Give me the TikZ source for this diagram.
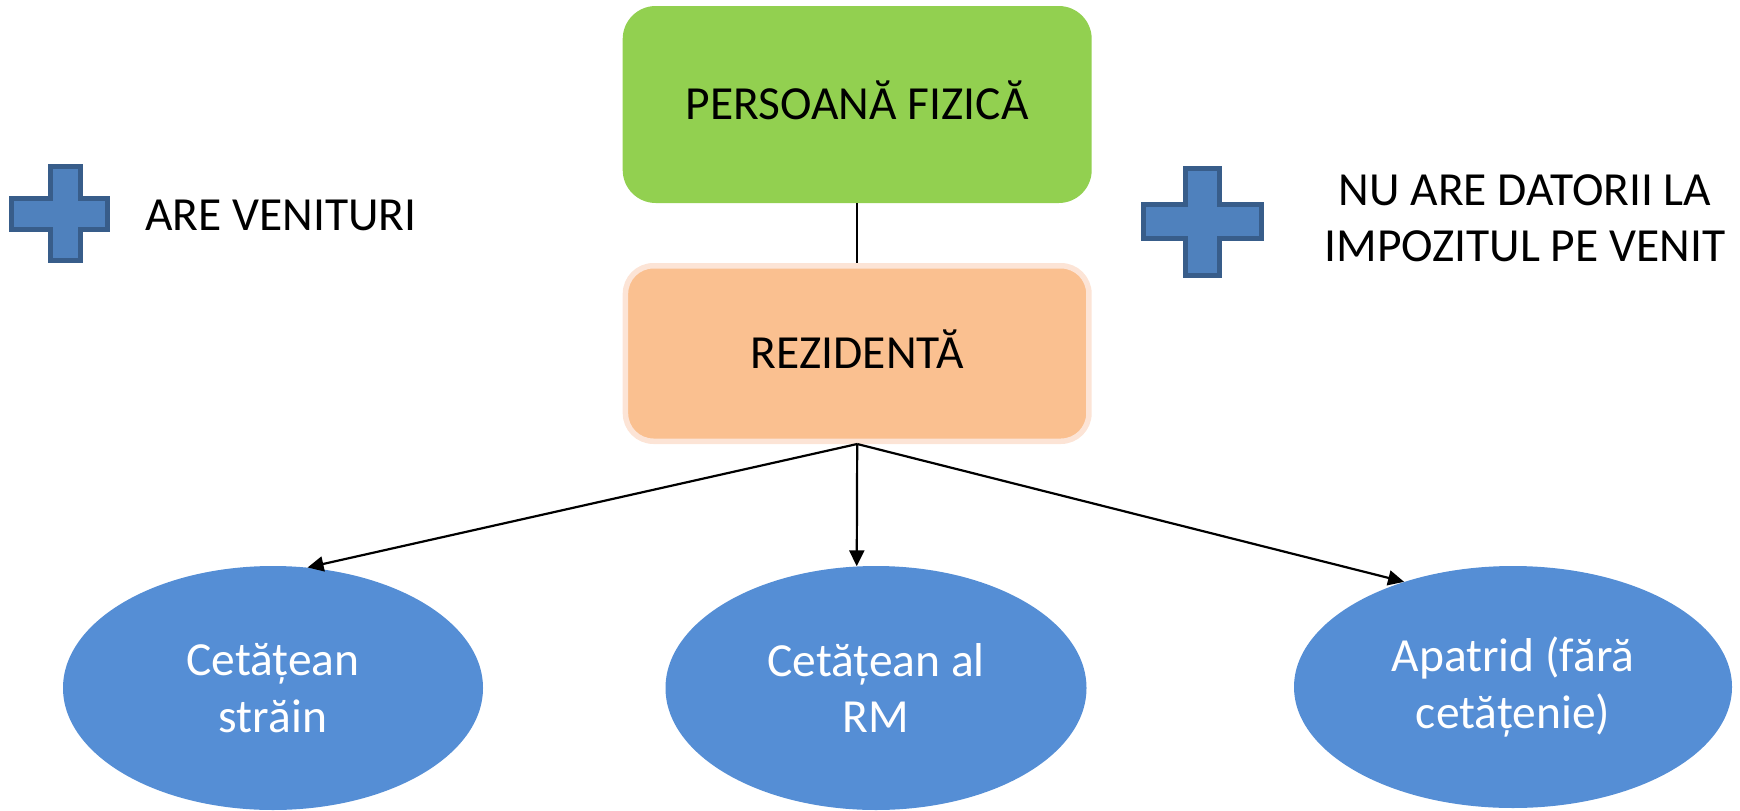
\documentclass[tikz,border=0pt]{standalone}
\usepackage{fontspec}
\setmainfont{Carlito}
\usetikzlibrary{arrows.meta,shapes.geometric}
\definecolor{pfgreen}{HTML}{92D050}
\definecolor{rezfill}{HTML}{FAC090}
\definecolor{rezedge}{HTML}{FCE4D6}
\definecolor{ellblue}{HTML}{558ED5}
\definecolor{crossfill}{HTML}{4F81BD}
\definecolor{crossedge}{HTML}{385D8A}
\tikzset{
  bigfont/.style={font=\fontsize{47.5pt}{56.5pt}\selectfont},
  topbox/.style={bigfont, rectangle, rounded corners=33pt, inner sep=0pt,
    text height=30pt, text depth=0pt},
  citizen/.style={bigfont, ellipse, fill=ellblue, inner sep=0pt, text=white, align=center},
  plusmark/.style={fill=crossfill, draw=crossedge, line width=5pt, line join=miter},
  link/.style={line width=2pt},
  arrowlink/.style={line width=2.2pt, -{Triangle[length=16pt,width=15pt]}},
  caption/.style={bigfont, inner sep=0pt}
}
\begin{document}
\begin{tikzpicture}[x=1pt,y=-1pt]
\useasboundingbox (0,0) rectangle (1740,811);

% top boxes
\node[topbox, fill=pfgreen, minimum width=469pt, minimum height=197pt]
  (pf) at (857.2,104.5) {PERSOANĂ FIZICĂ};
\node[topbox, fill=rezfill, draw=rezedge, line width=5.5pt, rounded corners=28pt,
  minimum width=463.5pt, minimum height=175.5pt]
  (rez) at (857.2,353.5) {REZIDENTĂ};

% ellipses
\node[citizen, minimum width=420pt, minimum height=244pt] (e1) at (273,688)
  {Cetățean\\străin};
\node[citizen, minimum width=421pt, minimum height=244pt] (e2) at (876,688)
  {Cetățean al\\RM};
\node[citizen, minimum width=438pt, minimum height=242pt] (e3) at (1513,687)
  {Apatrid (fără\\cetățenie)};

% connectors
\draw[link] (pf.south) -- (rez.north);
\draw[arrowlink] (rez.south) -- (e1.74);
\draw[arrowlink] (rez.south) -- (e2.99);
\draw[arrowlink] (rez.south) -- (e3.136);

% plus signs
\draw[plusmark] (50.2,166.8) -- (80.2,166.8) -- (80.2,198.5) -- (107.5,198.5)
  -- (107.5,229.2) -- (80.2,229.2) -- (80.2,260.8) -- (50.2,260.8)
  -- (50.2,229.2) -- (11.8,229.2) -- (11.8,198.5) -- (50.2,198.5) -- cycle;
\draw[plusmark] (1185.2,168.5) -- (1219.2,168.5) -- (1219.2,204.8) -- (1261.5,204.8)
  -- (1261.5,238.5) -- (1219.2,238.5) -- (1219.2,275.2) -- (1185.2,275.2)
  -- (1185.2,238.5) -- (1143.2,238.5) -- (1143.2,204.8) -- (1185.2,204.8) -- cycle;

% captions
\node[caption, anchor=base west] (venit) at (145,230) {ARE VENITURI};
\node[caption, align=center] (datorii) at (1525,218.4)
  {NU ARE DATORII LA\\IMPOZITUL PE VENIT};
\end{tikzpicture}
\end{document}
